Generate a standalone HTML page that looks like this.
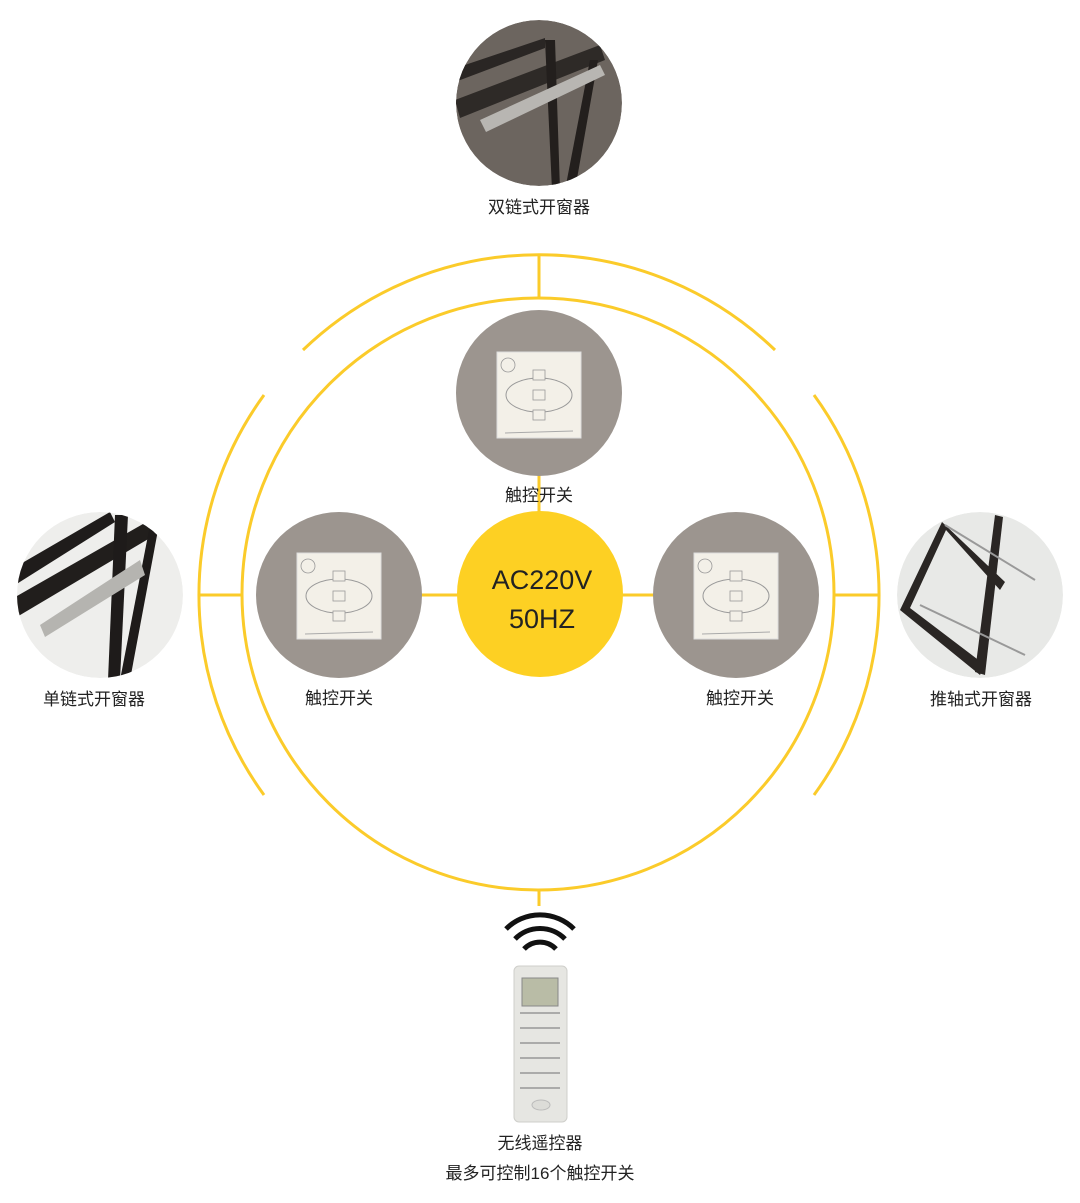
<!DOCTYPE html>
<html><head><meta charset="utf-8"><style>
html,body{margin:0;padding:0;background:#fff;}
svg{display:block}
text{font-family:"Liberation Sans","Noto Sans CJK SC",sans-serif;fill:#222;}
</style></head><body>
<svg width="1080" height="1203" viewBox="0 0 1080 1203" xmlns="http://www.w3.org/2000/svg">
<defs>
<clipPath id="ct"><circle cx="539" cy="103" r="83"/></clipPath>
<clipPath id="cl"><circle cx="100" cy="595" r="83"/></clipPath>
<clipPath id="cr"><circle cx="980" cy="595" r="83"/></clipPath>
<g id="sw">
<rect x="-42" y="-43" width="84" height="86" fill="#f3f0e8" stroke="#ddd" stroke-width="1"/>
<circle cx="-31" cy="-30" r="7" fill="none" stroke="#999" stroke-width="0.8"/>
<ellipse cx="0" cy="0" rx="33" ry="17" fill="none" stroke="#999" stroke-width="1"/>
<rect x="-6" y="-25" width="12" height="10" fill="#f3f0e8" stroke="#999" stroke-width="0.8"/>
<rect x="-6" y="-5" width="12" height="10" fill="#f3f0e8" stroke="#999" stroke-width="0.8"/>
<rect x="-6" y="15" width="12" height="10" fill="#f3f0e8" stroke="#999" stroke-width="0.8"/>
<line x1="-34" y1="38" x2="34" y2="36" stroke="#aaa" stroke-width="1"/>
</g>
</defs>
<g fill="none" stroke="#FBCB2A" stroke-width="3">
<circle cx="538" cy="594" r="296"/>
<path d="M303 350 A340 340 0 0 1 775 350"/>
<path d="M264 395 A340 340 0 0 0 264 795"/>
<path d="M814 395 A340 340 0 0 1 814 795"/>
<line x1="539" y1="255" x2="539" y2="298"/>
<line x1="198" y1="595" x2="242" y2="595"/>
<line x1="834" y1="595" x2="880" y2="595"/>
<line x1="539" y1="890" x2="539" y2="906"/>
<line x1="420" y1="595" x2="660" y2="595"/>
<line x1="539" y1="470" x2="539" y2="520"/>
</g>
<circle cx="540" cy="594" r="83" fill="#FDD023"/>
<text x="542" y="589" font-size="27" text-anchor="middle">AC220V</text>
<text x="542" y="628" font-size="27" text-anchor="middle">50HZ</text>
<circle cx="539" cy="393" r="83" fill="#9c958f"/>
<circle cx="339" cy="595" r="83" fill="#9c958f"/>
<circle cx="736" cy="595" r="83" fill="#9c958f"/>
<use href="#sw" x="539" y="395"/>
<use href="#sw" x="339" y="596"/>
<use href="#sw" x="736" y="596"/>
<g clip-path="url(#ct)">
<circle cx="539" cy="103" r="83" fill="#6c655f"/>
<path d="M450 70 L545 38 L545 48 L455 82Z" fill="#2a2624"/>
<path d="M455 100 L600 45 L605 60 L460 118Z" fill="#2e2a27"/>
<path d="M545 40 L552 190 L560 190 L555 40Z" fill="#231f1d"/>
<path d="M590 60 L565 190 L575 190 L598 60Z" fill="#231f1d"/>
<path d="M480 120 L600 65 L605 75 L486 132Z" fill="#b8b6b2"/>
</g>
<g clip-path="url(#cl)">
<circle cx="100" cy="595" r="83" fill="#eeeeec"/>
<path d="M10 570 L110 512 L115 522 L15 585Z" fill="#1f1c1b"/>
<path d="M10 600 L150 520 L155 535 L15 618Z" fill="#211e1c"/>
<path d="M115 515 L108 680 L120 680 L128 515Z" fill="#1e1b1a"/>
<path d="M150 525 L120 680 L130 680 L158 530Z" fill="#1e1b1a"/>
<path d="M40 625 L140 560 L145 575 L45 637Z" fill="#b5b4b0"/>
</g>
<g clip-path="url(#cr)">
<circle cx="980" cy="595" r="83" fill="#e8e9e7"/>
<path d="M942 522 L900 610 L980 675 L985 665 L910 608 L946 530 L1000 590 L1005 582Z" fill="#2a2624"/>
<path d="M995 515 L975 672 L985 675 L1003 517Z" fill="#2a2624"/>
<line x1="945" y1="525" x2="1035" y2="580" stroke="#999" stroke-width="2"/>
<line x1="920" y1="605" x2="1025" y2="655" stroke="#999" stroke-width="2"/>
</g>
<text x="539" y="213" font-size="17" text-anchor="middle">双链式开窗器</text>
<text x="539" y="501" font-size="17" text-anchor="middle">触控开关</text>
<text x="339" y="704" font-size="17" text-anchor="middle">触控开关</text>
<text x="740" y="704" font-size="17" text-anchor="middle">触控开关</text>
<text x="94" y="705" font-size="17" text-anchor="middle">单链式开窗器</text>
<text x="981" y="705" font-size="17" text-anchor="middle">推轴式开窗器</text>
<text x="540" y="1149" font-size="17" text-anchor="middle">无线遥控器</text>
<text x="540" y="1179" font-size="17" text-anchor="middle">最多可控制16个触控开关</text>
<g fill="none" stroke="#111" stroke-width="5" stroke-linecap="butt">
<path d="M506 929 A48 48 0 0 1 574 929"/>
<path d="M515 939 A35 35 0 0 1 565 939"/>
<path d="M524 949 A22 22 0 0 1 556 949"/>
</g>
<rect x="514" y="966" width="53" height="156" rx="5" fill="#e6e6e2" stroke="#cfcfcb"/>
<rect x="522" y="978" width="36" height="28" fill="#b9bca6" stroke="#888"/>
<g stroke="#888" stroke-width="1.2">
<line x1="520" y1="1013" x2="560" y2="1013"/><line x1="520" y1="1028" x2="560" y2="1028"/>
<line x1="520" y1="1043" x2="560" y2="1043"/><line x1="520" y1="1058" x2="560" y2="1058"/>
<line x1="520" y1="1073" x2="560" y2="1073"/><line x1="520" y1="1088" x2="560" y2="1088"/>
</g>
<ellipse cx="541" cy="1105" rx="9" ry="5" fill="#dcdcd8" stroke="#bbb"/>
</svg>
</body></html>
